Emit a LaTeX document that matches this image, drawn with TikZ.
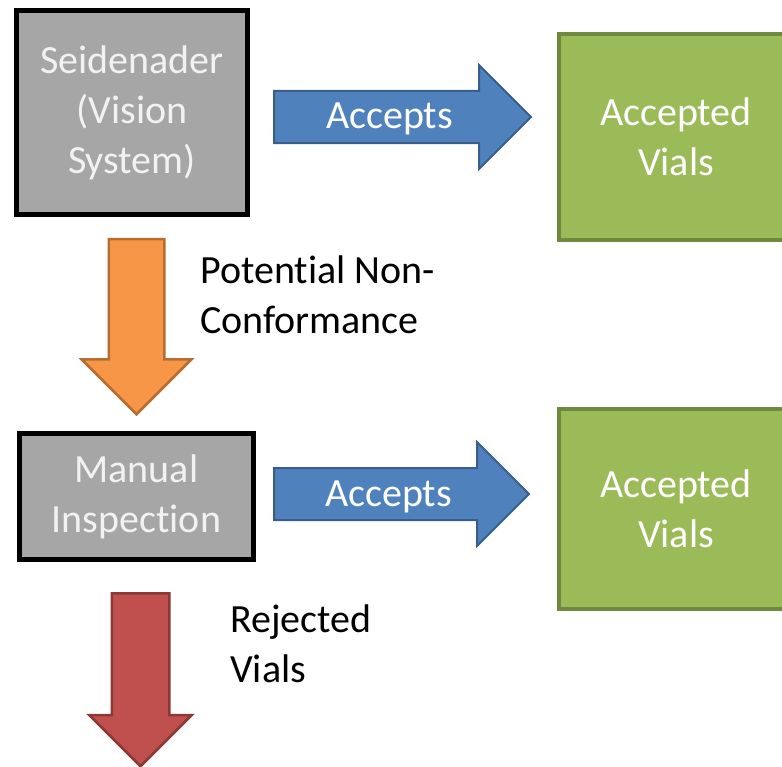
\documentclass[tikz,border=0pt]{standalone}
\usepackage{fontspec}
\setmainfont{Carlito}[Ligatures={NoCommon,NoContextual,NoRare}]
\usetikzlibrary{shapes.arrows, calc, positioning}
\definecolor{boxgray}{HTML}{A6A6A6}
\definecolor{vialgreen}{HTML}{9BBB59}
\definecolor{vialgreenline}{HTML}{71893F}
\definecolor{acceptblue}{HTML}{4F81BD}
\definecolor{acceptblueline}{HTML}{385D8A}
\definecolor{ncorange}{HTML}{F79646}
\definecolor{ncorangeline}{HTML}{B66D31}
\definecolor{rejectred}{HTML}{C0504D}
\definecolor{rejectredline}{HTML}{8C3836}
\newcommand{\bigfont}{\fontsize{40}{50}\selectfont}
\tikzstyle{station} = [rectangle, line width=5pt, draw=black, fill=boxgray, text=white!95!black, align=center, font=\bigfont]
\tikzstyle{vials} = [rectangle, line width=4pt, draw=vialgreenline, fill=vialgreen, text=white, align=center, minimum width=234pt, font=\bigfont]
\tikzstyle{accept} = [single arrow, single arrow head extend=26pt, line width=2pt, draw=acceptblueline, fill=acceptblue, text=white, font=\bigfont, text height=30pt, text depth=6pt, inner ysep=7pt, minimum width=0pt]
\tikzstyle{flowdown} = [single arrow, rotate=-90, anchor=tail, line width=2.5pt, inner ysep=5pt, inner xsep=0pt, text depth=0pt, minimum width=0pt]
\tikzstyle{note} = [font=\bigfont, align=left, inner sep=0pt, anchor=west]

\begin{document}
\begin{tikzpicture}[x=1pt, y=-1pt]
		\useasboundingbox (0,0) rectangle (782,767);
		\node (Seidenader) [station, minimum width=231pt, minimum height=204pt] at (132,112.5) {Seidenader\\(Vision\\System)};
		\node (Manual) [station, minimum width=234pt, minimum height=126pt] at (136.5,496.5) {Manual\\Inspection};
		\node (Accepted1) [vials, minimum height=206pt] at (676,137) {Accepted\\Vials};
		\node (Accepted2) [vials, minimum height=200pt] at (676,509) {Accepted\\Vials};
		\node (Accepts1) [accept, minimum height=257pt, right = 23pt of Seidenader, yshift=-4.5pt] {Accepts};
		\node (Accepts2) [accept, minimum height=255pt, right = 17pt of Manual, yshift=2.5pt] {Accepts};
		\node (NonConf) [flowdown, draw=ncorangeline, fill=ncorange, text height=43pt, single arrow head extend=27pt, minimum height=175pt] at ($(Seidenader.south)+(4.5,21)$) {};
		\node (Rejected) [flowdown, draw=rejectredline, fill=rejectred, text height=45pt, single arrow head extend=22.5pt, minimum height=173pt] at ($(Manual.south)+(4,30)$) {};
		\node (NonConfText) [note] at (200,295) {Potential Non-\\Conformance};
		\node (RejectedText) [note] at (230,644) {Rejected\\Vials};
	\end{tikzpicture}
\end{document}
